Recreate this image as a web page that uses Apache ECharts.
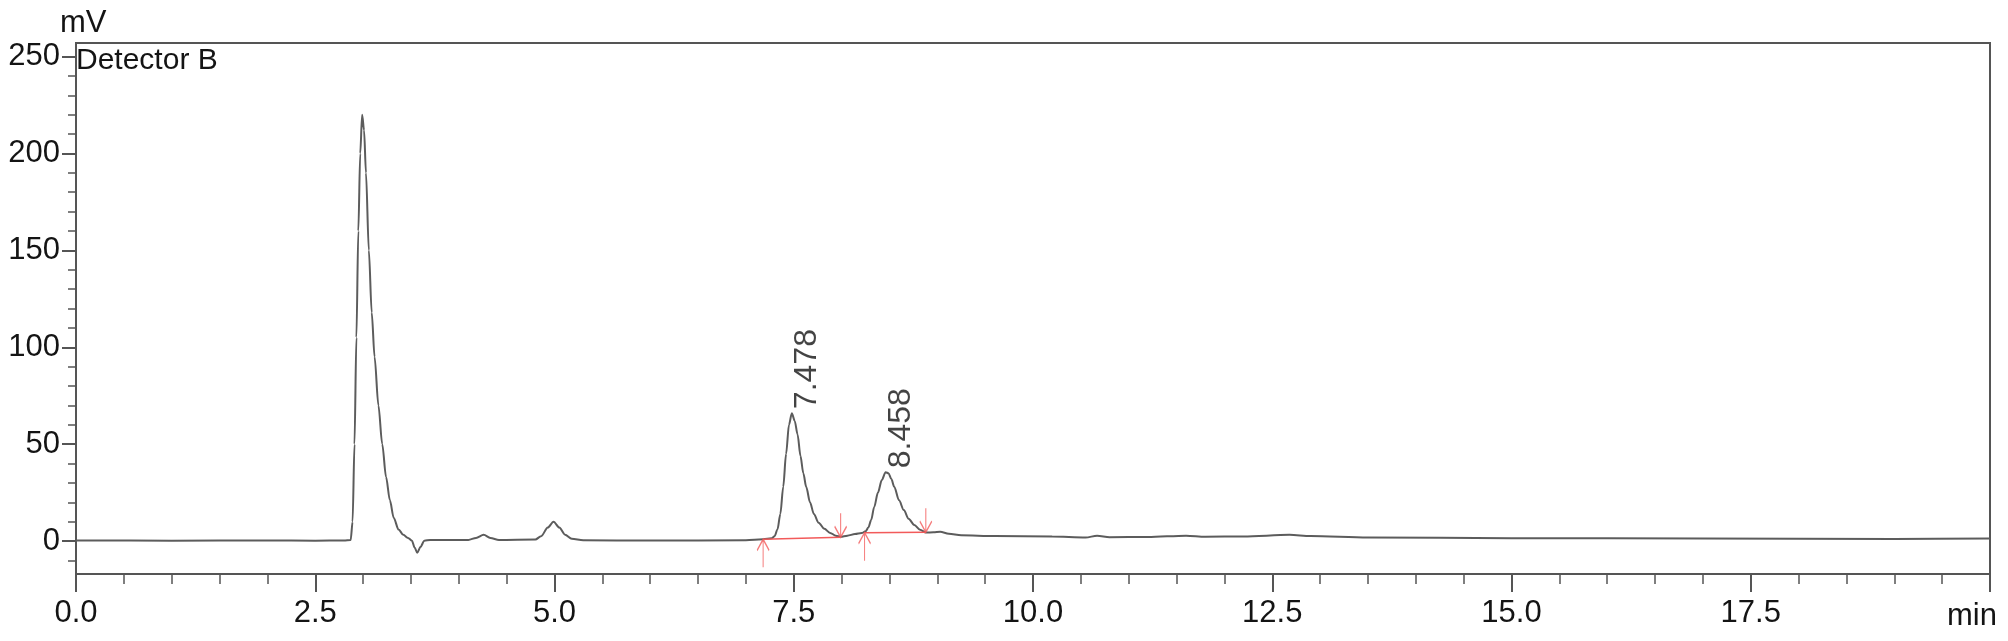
<!DOCTYPE html>
<html>
<head>
<meta charset="utf-8">
<script src="https://cdn.jsdelivr.net/npm/echarts@6/dist/echarts.min.js"></script>
<style>
  html, body { margin: 0; padding: 0; background: #fff; }
  #chart { width: 2008px; height: 641px; }
</style>
</head>
<body>
<div id="chart"></div>
<script>
// retention time (min) and detector signal (mV)
const time = [
  0, 1.0, 2.0, 2.5, 2.80, 2.87, 2.89, 2.91, 2.93, 2.95, 2.97, 2.99, 3.01, 3.03, 3.06,
  3.09, 3.12, 3.16, 3.20, 3.24, 3.28, 3.32, 3.37, 3.42, 3.47, 3.51, 3.54, 3.565, 3.60,
  3.64, 3.70, 4.10, 4.18, 4.26, 4.33, 4.42, 4.80, 4.86, 4.93, 4.99, 5.05, 5.11, 5.18,
  5.30, 6.0, 7.0, 7.18, 7.27, 7.30, 7.33, 7.36, 7.39, 7.42, 7.45, 7.48, 7.51, 7.54,
  7.57, 7.60, 7.63, 7.67, 7.71, 7.76, 7.82, 7.88, 7.94, 7.99, 8.06, 8.14, 8.21, 8.25,
  8.28, 8.31, 8.34, 8.38, 8.42, 8.46, 8.49, 8.52, 8.55, 8.60, 8.65, 8.70, 8.76, 8.82,
  8.88, 8.96, 9.03, 9.12, 9.25, 9.6, 10.2, 10.55, 10.67, 10.8, 11.2, 11.6, 11.8, 12.2,
  12.68, 12.9, 13.5, 15.0, 17.0, 19.0, 20.0
]
const signal = [
  0.3, 0.2, 0.3, 0.2, 0.3, 0.5, 10, 50, 105, 160, 200, 220, 212, 190, 150,
  118, 95, 70, 50, 33, 21, 12, 6, 3.2, 1.6, 0.2, -3.5, -6, -3,
  0.2, 0.6, 0.6, 1.6, 3.2, 1.6, 0.6, 0.8, 2.5, 7, 10, 7, 3.3, 1.2,
  0.4, 0.3, 0.4, 0.9, 1.4, 2.5, 6, 14, 28, 45, 60, 66, 62, 55,
  44, 35, 28, 20, 14, 9.5, 6.3, 4.2, 2.8, 2.2, 2.8, 3.6, 4.1, 5,
  7, 11, 17.5, 25, 31.5, 35.5, 35, 32, 28, 21, 16, 11.5, 8.3, 5.8,
  4.4, 4.5, 4.8, 3.8, 3.0, 2.6, 2.3, 1.8, 2.8, 2.0, 2.1, 2.8, 2.2, 2.4,
  3.2, 2.6, 1.8, 1.5, 1.3, 1.1, 1.3
]

// labelled peaks
const peakTimes = [7.478, 8.458]
const peakHeights = [66, 35.5]

// integration start / end points
const startTimes = [7.18, 8.24]
const startLevels = [0.9, 4.3]
const endTimes = [7.99, 8.88]
const endLevels = [1.9, 4.5]

// axis ticks
const yLabels = [0, 50, 100, 150, 200, 250]
const yMinorTicks = [-10, 10, 20, 30, 40, 60, 70, 80, 90, 110, 120, 130, 140, 160, 170, 180, 190, 210, 220, 230, 240]

const red = '#f25a5a'
const textColor = '#141414'
const axisColor = '#555'
const font = 'Liberation Sans'

const trace = time.map((t, i) => [t, signal[i]])

const chart = echarts.init(document.getElementById('chart'), null, { renderer: 'canvas' })

chart.setOption({
  animation: false,
  backgroundColor: '#fff',
  grid: {
    left: 76,
    right: 18,
    top: 43,
    bottom: 67,
    show: true,
    borderColor: axisColor,
    borderWidth: 2,
    containLabel: false,
    outerBoundsMode: 'none'
  },
  xAxis: {
    type: 'value',
    min: 0,
    max: 20,
    interval: 2.5,
    axisLine: { onZero: false, lineStyle: { color: axisColor, width: 2 } },
    axisTick: { length: 18, lineStyle: { color: axisColor, width: 2 } },
    minorTick: { show: true, splitNumber: 5, length: 10, lineStyle: { color: axisColor, width: 1.5 } },
    splitLine: { show: false },
    axisLabel: {
      margin: 24,
      fontSize: 31,
      fontFamily: font,
      color: textColor,
      formatter: v => (v === 20 ? '' : v.toFixed(1))
    }
  },
  yAxis: [
    {
      type: 'value',
      min: -17,
      max: 257,
      axisLine: { show: true, lineStyle: { color: axisColor, width: 2 } },
      axisTick: { show: true, length: 14, customValues: yLabels, lineStyle: { color: axisColor, width: 2 } },
      splitLine: { show: false },
      axisLabel: {
        margin: 16,
        fontSize: 31,
        fontFamily: font,
        color: textColor,
        customValues: yLabels
      }
    },
    {
      type: 'value',
      min: -17,
      max: 257,
      position: 'left',
      axisLine: { show: false },
      axisTick: { show: true, length: 8, customValues: yMinorTicks, lineStyle: { color: axisColor, width: 1.5 } },
      axisLabel: { show: false },
      splitLine: { show: false }
    }
  ],
  graphic: [
    { type: 'text', left: 60, top: 8, style: { text: 'mV', fontSize: 31, fontFamily: font, fill: textColor } },
    { type: 'text', left: 76, top: 46, style: { text: 'Detector B', fontSize: 30, fontFamily: font, fill: textColor } },
    { type: 'text', right: 11, top: 601, style: { text: 'min', fontSize: 31, fontFamily: font, fill: textColor } }
  ],
  series: [
    {
      type: 'line',
      data: trace,
      showSymbol: false,
      smooth: 0.3,
      smoothMonotone: 'x',
      lineStyle: { color: '#5c5c5c', width: 2 },
      z: 3
    },
    {
      type: 'line',
      data: [[startTimes[0], startLevels[0]], [endTimes[0], endLevels[0]]],
      showSymbol: false,
      lineStyle: { color: red, width: 1.5 },
      z: 4
    },
    {
      type: 'line',
      data: [[startTimes[1], startLevels[1]], [endTimes[1], endLevels[1]]],
      showSymbol: false,
      lineStyle: { color: red, width: 1.5 },
      z: 4
    },
    {
      // up arrows at integration start
      type: 'scatter',
      data: startTimes.map((t, i) => [t, startLevels[i]]),
      symbol: 'path://M6,0 L6,28 M0,11 L6,0 L12,11',
      symbolSize: [12, 28],
      symbolOffset: [0, 14],
      itemStyle: { color: 'none', borderColor: red, borderWidth: 1.5 },
      z: 5
    },
    {
      // down arrows at integration end
      type: 'scatter',
      data: endTimes.map((t, i) => [t, endLevels[i]]),
      symbol: 'path://M6,0 L6,24 M0,13 L6,24 L12,13',
      symbolSize: [12, 24],
      symbolOffset: [0, -12],
      itemStyle: { color: 'none', borderColor: red, borderWidth: 1.5 },
      z: 5
    },
    {
      type: 'scatter',
      data: peakTimes.map((t, i) => [t, peakHeights[i]]),
      symbolSize: 2,
      itemStyle: { color: 'rgba(0,0,0,0)' },
      label: {
        show: true,
        position: [17, -3],
        rotate: 90,
        align: 'left',
        verticalAlign: 'middle',
        fontSize: 32,
        fontFamily: font,
        color: textColor,
        formatter: p => p.value[0].toFixed(3)
      },
      z: 6
    }
  ]
})
</script>
</body>
</html>
